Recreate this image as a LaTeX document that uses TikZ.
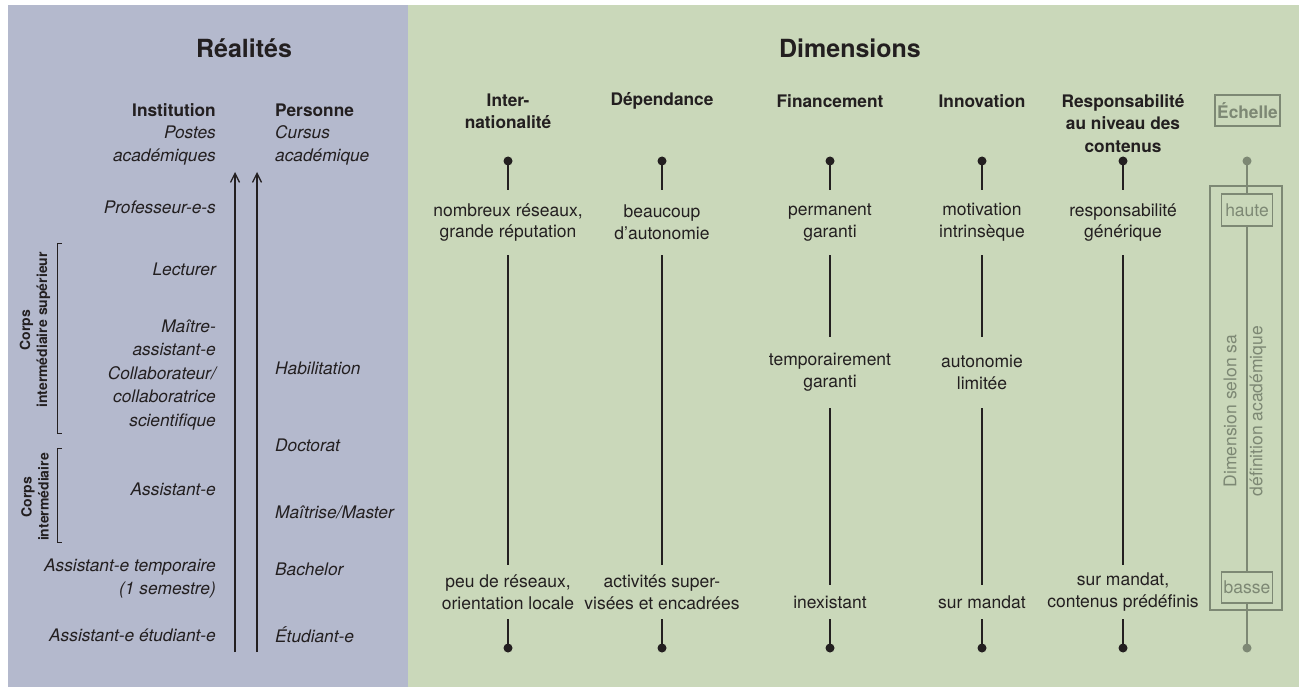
\documentclass[tikz,border=0pt]{standalone}
\usepackage{fontspec}
\setmainfont{TeX Gyre Heros}
\usetikzlibrary{arrows.meta}
\definecolor{panelblue}{RGB}{180,185,205}
\definecolor{panelgreen}{RGB}{202,216,186}
\definecolor{ink}{RGB}{35,31,32}
\definecolor{scalegray}{RGB}{125,136,116}
\tikzset{
  paneltitle/.style={font=\fontsize{25}{30}\selectfont\bfseries, text=ink, inner sep=0},
  colhead/.style={font=\fontsize{17.3}{22.5}\selectfont\bfseries, text=ink, align=center, inner sep=0},
  lefthead/.style={font=\fontsize{17.3}{22}\selectfont\bfseries, text=ink, inner sep=0},
  poste/.style={font=\fontsize{17.3}{23.5}\selectfont\itshape, text=ink, inner sep=0, anchor=east, align=right},
  cursus/.style={font=\fontsize{17.3}{23.5}\selectfont\itshape, text=ink, inner sep=0, anchor=west, align=left},
  corps/.style={font=\fontsize{14}{17}\selectfont\bfseries, text=ink, align=center, inner sep=0, rotate=90},
  dimtext/.style={font=\fontsize{17.5}{21.7}\selectfont, text=ink, align=center, inner xsep=0, inner ysep=0},
  axis/.style={draw=ink, line width=1.3pt},
  enddot/.style={circle, fill=ink, inner sep=0, minimum size=9pt},
  bracket/.style={draw=ink, line width=1pt},
  rise/.style={draw=ink, line width=1.3pt, -{Straight Barb[length=9pt,width=9pt]}},
  scalebox/.style={draw=scalegray, line width=1.3pt, text=scalegray, inner sep=0,
                   font=\fontsize{17.5}{22}\selectfont},
  scaleaxis/.style={draw=scalegray, line width=1.3pt},
  scaledot/.style={circle, fill=scalegray, inner sep=0, minimum size=9pt},
}
\begin{document}
\begin{tikzpicture}[x=1pt, y=-1pt]
\useasboundingbox (0,0) rectangle (1303,687);

% background panels
\fill[panelblue] (8,5) rectangle (408,687);
\fill[panelgreen] (408,5) rectangle (1299,687);

% titles
\node[paneltitle] (realites) at (244,48) {Réalités};
\node[paneltitle] (dimensions) at (850,48) {Dimensions};

% ---------- left panel: institution and person ----------
\node[lefthead, anchor=east] (institution) at (216,110) {Institution};
\node[lefthead, anchor=west] (personne) at (275,110) {Personne};
\node[poste] (postes) at (216,145.5) {Postes\\académiques};
\node[cursus] (cursus) at (275,145.5) {Cursus\\académique};

\node[poste] (prof) at (216,207) {Professeur-e-s};
\node[poste] (lecturer) at (216,269) {Lecturer};
\node[poste] (maitre) at (216,375) {Maître-\\assistant-e\\Collaborateur/\\collaboratrice\\scientifique};
\node[poste] (assistant) at (216,489) {Assistant-e};
\node[poste] (asstemp) at (216,578.5) {Assistant-e temporaire\\(1 semestre)};
\node[poste] (asset) at (216,635) {Assistant-e étudiant-e};

\node[cursus] (habil) at (275,368) {Habilitation};
\node[cursus] (doctorat) at (275,445) {Doctorat};
\node[cursus] (master) at (275,512) {Maîtrise/Master};
\node[cursus] (bachelor) at (275,569) {Bachelor};
\node[cursus] (etudiant) at (275,635) {Étudiant-e};

% rising arrows
\coordinate (instBase) at (235,652);
\coordinate (instTip) at (235,172);
\coordinate (persBase) at (257,652);
\coordinate (persTip) at (257,172);
\draw[rise] (instBase) -- (instTip);
\draw[rise] (persBase) -- (persTip);

% brackets for the intermediate bodies
\draw[bracket] (62,243) -- (57,243) -- (57,433) -- (62,433);
\draw[bracket] (62,448) -- (57,448) -- (57,542) -- (62,542);
\node[corps] (corpsSup) at (35,330) {Corps\\intermédiaire supérieur};
\node[corps] (corpsInt) at (35,497) {Corps\\intermédiaire};

% ---------- right panel: dimensions ----------
% Internationalité
\node[colhead] (hInt) at (508,111.5) {Inter-\\nationalité};
\node[enddot] (intTop) at (508,161) {};
\node[dimtext, minimum height=65pt] (intHi) at (508,222.5) {nombreux réseaux,\\grande réputation};
\node[dimtext, minimum height=54pt] (intLo) at (508,592) {peu de réseaux,\\orientation locale};
\node[enddot] (intBot) at (508,648) {};
\draw[axis] (intTop.center) -- (intHi.north);
\draw[axis] (intHi.south) -- (intLo.north);
\draw[axis] (intLo.south) -- (intBot.center);

% Dépendance
\node[colhead] (hDep) at (662,101) {Dépendance};
\node[enddot] (depTop) at (662,161) {};
\node[dimtext, minimum height=65pt] (depHi) at (662,222.5) {beaucoup\\d’autonomie};
\node[dimtext, minimum height=54pt] (depLo) at (662,592) {activités super-\\visées et encadrées};
\node[enddot] (depBot) at (662,648) {};
\draw[axis] (depTop.center) -- (depHi.north);
\draw[axis] (depHi.south) -- (depLo.north);
\draw[axis] (depLo.south) -- (depBot.center);

% Financement
\node[colhead] (hFin) at (830,101) {Financement};
\node[enddot] (finTop) at (830,161) {};
\node[dimtext, minimum height=65pt] (finHi) at (830,222.5) {permanent\\garanti};
\node[dimtext, minimum height=71pt] (finMid) at (830,372.5) {temporairement\\garanti};
\node[dimtext, minimum height=34pt] (finLo) at (830,602) {inexistant};
\node[enddot] (finBot) at (830,648) {};
\draw[axis] (finTop.center) -- (finHi.north);
\draw[axis] (finHi.south) -- (finMid.north);
\draw[axis] (finMid.south) -- (finLo.north);
\draw[axis] (finLo.south) -- (finBot.center);

% Innovation
\node[colhead] (hInn) at (982,101) {Innovation};
\node[enddot] (innTop) at (982,161) {};
\node[dimtext, minimum height=65pt] (innHi) at (982,222.5) {motivation\\intrinsèque};
\node[dimtext, minimum height=71pt] (innMid) at (982,372.5) {autonomie\\limitée};
\node[dimtext, minimum height=34pt] (innLo) at (982,602) {sur mandat};
\node[enddot] (innBot) at (982,648) {};
\draw[axis] (innTop.center) -- (innHi.north);
\draw[axis] (innHi.south) -- (innMid.north);
\draw[axis] (innMid.south) -- (innLo.north);
\draw[axis] (innLo.south) -- (innBot.center);

% Responsabilité au niveau des contenus
\node[colhead] (hRes) at (1123,123.5) {Responsabilité\\au niveau des\\contenus};
\node[enddot] (resTop) at (1123,161) {};
\node[dimtext, minimum height=65pt] (resHi) at (1123,222.5) {responsabilité\\générique};
\node[dimtext, minimum height=54pt] (resLo) at (1123,592) {sur mandat,\\contenus prédéfinis};
\node[enddot] (resBot) at (1123,648) {};
\draw[axis] (resTop.center) -- (resHi.north);
\draw[axis] (resHi.south) -- (resLo.north);
\draw[axis] (resLo.south) -- (resBot.center);

% Échelle (legend)
\node[scalebox, font=\fontsize{17.3}{22}\selectfont\bfseries, minimum width=65pt, minimum height=31pt] (echelle) at (1247.5,110.5) {Échelle};
\node[scaledot] (scTop) at (1247,161) {};
\node[draw=scalegray, line width=1.3pt, minimum width=72pt, minimum height=424pt, inner sep=0] (scFrame) at (1246,398) {};
\node[scalebox, minimum width=51pt, minimum height=32pt] (haute) at (1247,210) {haute};
\node[scalebox, minimum width=51pt, minimum height=31pt] (basse) at (1247,587.5) {basse};
\node[scaledot] (scBot) at (1247,648) {};
\draw[scaleaxis] (scTop.center) -- (haute.north);
\draw[scaleaxis] (haute.south) -- (basse.north);
\draw[scaleaxis] (basse.south) -- (scBot.center);
\node[rotate=90, font=\fontsize{17.5}{26}\selectfont, text=scalegray, align=center, inner sep=0] (scDesc) at (1245,411) {Dimension selon sa\\définition académique};
\end{tikzpicture}
\end{document}
